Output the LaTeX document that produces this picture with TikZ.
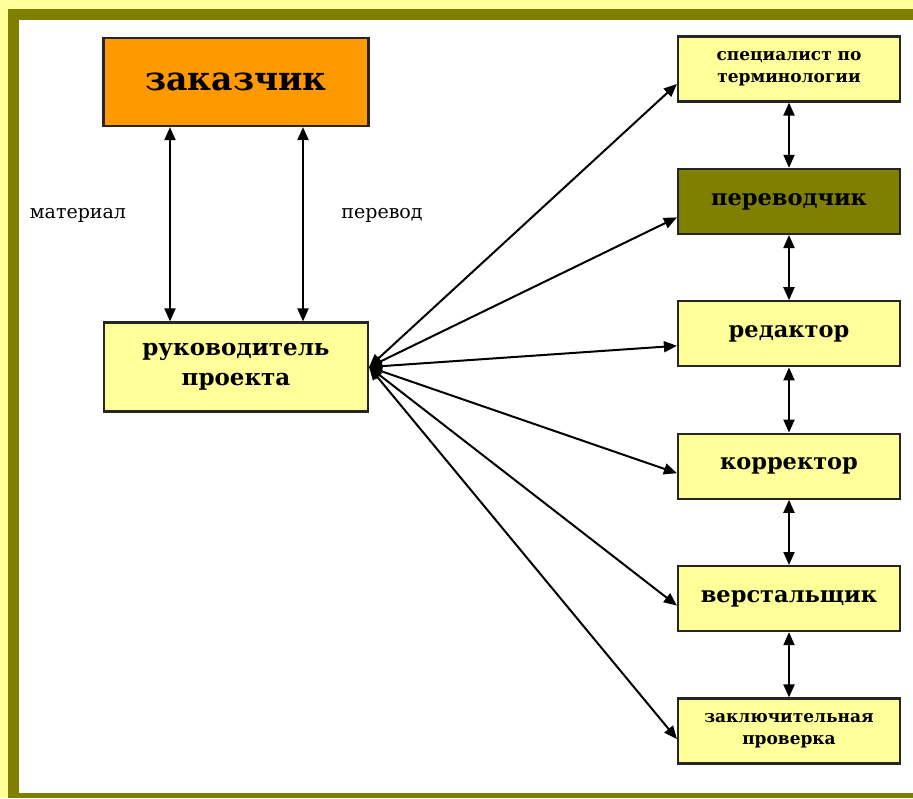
\documentclass[tikz,border=0pt]{standalone}
\usepackage{fontspec}
\setmainfont{DejaVu Serif}
\usetikzlibrary{arrows.meta,positioning}
\definecolor{zakorange}{HTML}{FF9900}
\definecolor{paleyellow}{HTML}{FFFF99}
\definecolor{olivebox}{HTML}{808000}

\begin{document}
\begin{tikzpicture}[x=1pt,y=-1pt,>={Triangle[length=13pt,width=11pt]},node distance=65.2pt,line width=2pt]
		\tikzstyle{box}=[draw=black!85,line width=2.2pt,fill=paleyellow,inner sep=0pt,align=center]
		\tikzstyle{right box}=[box,minimum width=222pt,minimum height=65pt,font=\bfseries\fontsize{22.5}{26}\selectfont]
		\tikzstyle{label}=[font=\fontsize{19}{22}\selectfont]

		% frame
		\fill[paleyellow] (0,0) rectangle (913,798);
		\fill[olivebox] (8,9) rectangle (913,798);
		\fill[white] (19,20) rectangle (913,793);
		\useasboundingbox (0,0) rectangle (913,798);

		\node[box,fill=zakorange,minimum width=265pt,minimum height=88pt,font=\bfseries\fontsize{33}{36}\selectfont] (zak) at (236,82) {заказчик};
		\node[box,minimum width=264pt,minimum height=89pt,font=\bfseries\fontsize{23}{30}\selectfont] (ruk) at (236,367) {руководитель\\проекта};

		\node[right box,font=\bfseries\fontsize{17}{22}\selectfont] (spec) at (789,69) {специалист по\\терминологии};
		\node[right box,fill=olivebox] (perev) [below=of spec] {переводчик};
		\node[right box] (red) [below=of perev] {редактор};
		\node[right box] (korr) [below=of red] {корректор};
		\node[right box] (verst) [below=of korr] {верстальщик};
		\node[right box,font=\bfseries\fontsize{17}{22}\selectfont] (prov) [below=of verst] {заключительная\\проверка};

		\node[label] (mat) at (78,215) {материал};
		\node[label] (per) at (382,215) {перевод};

		\draw[<->] ([xshift=-66pt]zak.south) -- ([xshift=-66pt]ruk.north);
		\draw[<->] ([xshift=67pt]zak.south) -- ([xshift=67pt]ruk.north);

		\path[<->]
		(spec) edge (perev)
		(perev) edge (red)
		(red) edge (korr)
		(korr) edge (verst)
		(verst) edge (prov);

		\path[<->]
		(ruk.east) edge ([yshift=-15pt]spec.west)
			edge ([yshift=-16pt]perev.west)
			edge ([yshift=-12pt]red.west)
			edge ([yshift=-7pt]korr.west)
			edge ([yshift=-7pt]verst.west)
			edge ([yshift=-8pt]prov.west);
	\end{tikzpicture}
\end{document}
